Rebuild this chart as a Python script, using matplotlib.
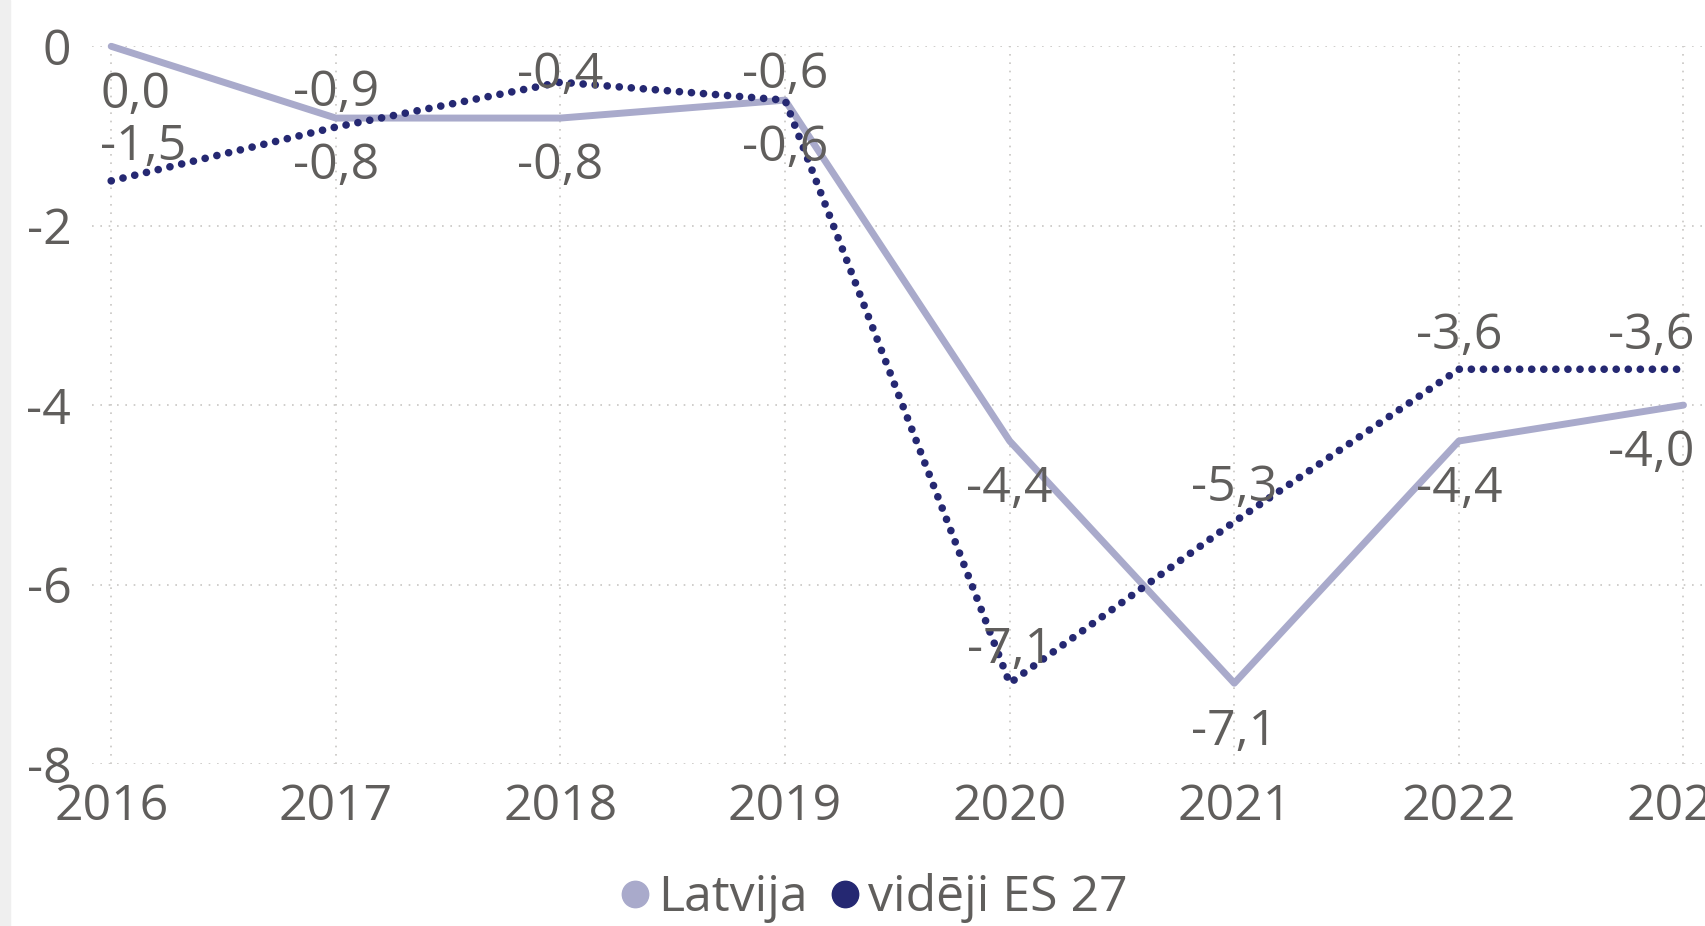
import matplotlib
matplotlib.use("Agg")
import matplotlib.pyplot as plt
from matplotlib.patches import Rectangle
from matplotlib.lines import Line2D

# Data
years = [2016, 2017, 2018, 2019, 2020, 2021, 2022, 2023]
latvija = [0.0, -0.8, -0.8, -0.6, -4.4, -7.1, -4.4, -4.0]
es27 = [-1.5, -0.9, -0.4, -0.6, -7.1, -5.3, -3.6, -3.6]
y_ticks = [0, -2, -4, -6, -8]
series_names = ["Latvija", "vidēji ES 27"]

LIGHT = "#A9AACB"
NAVY = "#252872"
TEXT = "#605E5C"
GRID = "#C8C6C4"
FS = 36

plt.rcParams['font.family'] = ['Open Sans', 'DejaVu Sans']


def fmt(v):
    return f"{v:.1f}".replace(".", ",")


def label(ax, x, v, dy):
    # first / last labels are pushed inward so they stay inside the picture
    if x == years[0]:
        ha, dx = 'left', -8
    elif x == years[-1]:
        ha, dx = 'right', 8
    else:
        ha, dx = 'center', 0
    ax.annotate(fmt(v), (x, v), xytext=(dx, dy), textcoords='offset points',
                ha=ha, va='center', fontsize=FS, color=TEXT, zorder=5,
                annotation_clip=False)


def main():
    fig = plt.figure(figsize=(17.06, 9.26), dpi=100)
    fig.patches.append(Rectangle((0, 0), 10 / 1706, 1, transform=fig.transFigure,
                                 color="#EFEFEF", zorder=0))
    ax = fig.add_axes([0.054, 0.175, 0.944, 0.775])
    ax.set_xlim(2015.915, 2023.085)
    ax.set_ylim(-8, 0)

    ax.plot(years, latvija, color=LIGHT, lw=5, solid_capstyle='round',
            solid_joinstyle='round', zorder=3, clip_on=False)
    ax.plot(years, es27, color=NAVY, lw=5.5, linestyle=(0, (0.01, 1.57)),
            dash_capstyle='round', zorder=4, clip_on=False)

    # points per data unit on the y axis, to keep top labels inside the plot
    pts_per_unit = (ax.transData.transform((0, 0))[1]
                    - ax.transData.transform((0, -1))[1]) * 72 / fig.dpi

    # data labels: Latvija below, ES 27 above
    for x, v in zip(years, latvija):
        label(ax, x, v, -35)
    for x, v in zip(years, es27):
        label(ax, x, v, min(24, (-0.32 - v) * pts_per_unit))

    ax.set_xticks(years)
    ax.set_xticklabels([str(y) for y in years])
    ax.set_yticks(y_ticks)
    ax.set_yticklabels([str(t) for t in y_ticks])
    ax.tick_params(axis='both', length=0, labelsize=FS, labelcolor=TEXT)
    ax.tick_params(axis='y', pad=15)
    ax.tick_params(axis='x', pad=13)
    ax.grid(True, color=GRID, linestyle=(0, (1, 4)), lw=1.2)
    for s in ax.spines.values():
        s.set_visible(False)

    handles = [Line2D([], [], marker='o', ls='', color=LIGHT, markersize=19),
               Line2D([], [], marker='o', ls='', color=NAVY, markersize=19)]
    fig.legend(handles, series_names, loc='center', bbox_to_anchor=(0.51, 0.03),
               ncol=2, frameon=False, fontsize=FS, labelcolor=TEXT,
               handletextpad=0.0, columnspacing=0.3, handlelength=0.9,
               borderpad=0)

    fig.savefig("out.png", dpi=100)


if __name__ == '__main__':
    main()
